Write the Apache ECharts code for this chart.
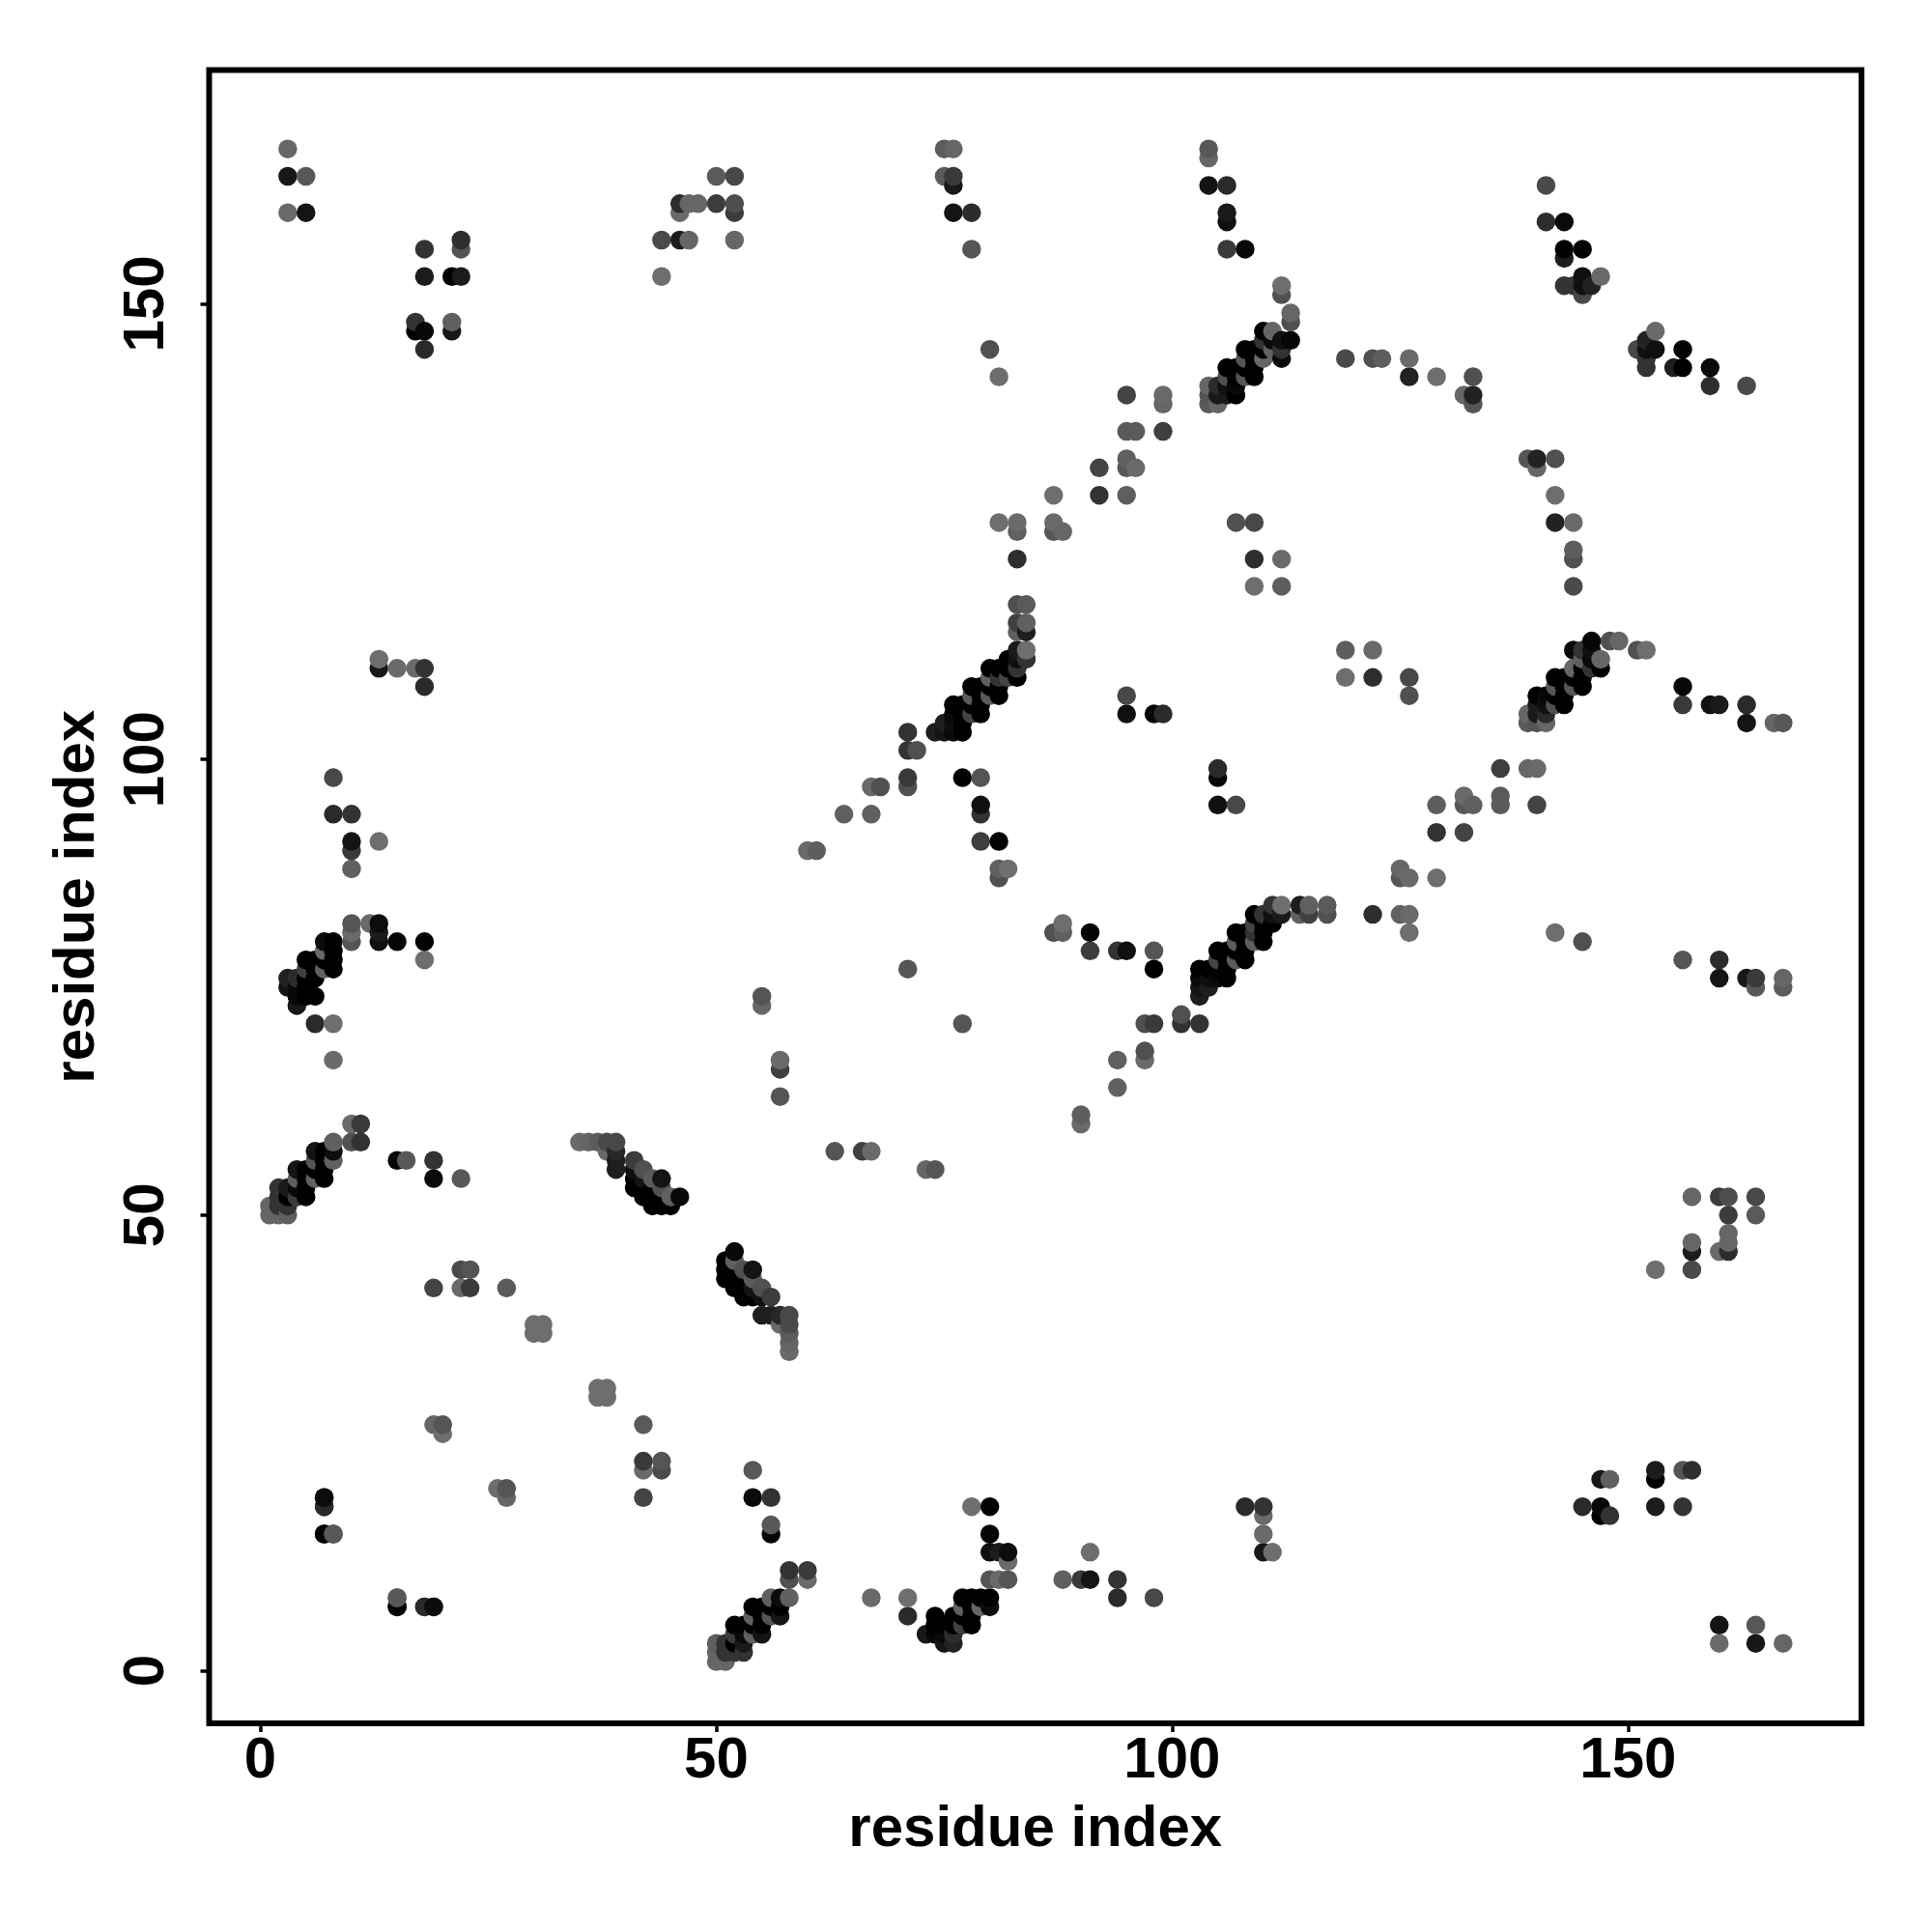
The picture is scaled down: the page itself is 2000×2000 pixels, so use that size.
<!DOCTYPE html>
<html>
<head>
<meta charset="utf-8">
<style>html,body{margin:0;padding:0;background:#fff}#chart{width:2000px;height:2000px}</style>
<script src="https://cdn.jsdelivr.net/npm/echarts@6/dist/echarts.min.js"></script>
</head>
<body>
<div id="chart"></div>
<script>
// Contact map: each entry is [residue i, residue j, level]; the map is symmetric, entries hold i<j.
const tickValues = [0, 50, 100, 150];
const axisName = 'residue index';

const bandN1 = [[1,50,102],[2,50,102],[3,50,94],[1,51,102],[2,51,51],[3,51,51],[2,52,51],[3,52,0],[4,52,60],[5,52,0],
  [2,53,51],[3,53,26],[4,53,10],[5,53,0],[4,54,96],[5,54,0],[6,54,96],[7,54,0],[4,55,20],[5,55,0],[6,55,0],[7,55,0],
  [6,56,85],[7,56,0],[8,56,96],[6,57,20],[7,57,0],[8,57,12],[8,58,96],[10,58,80],[11,58,51],[10,60,106],[11,60,58]];
const bandN2 = [[3,75,20],[3,76,34],[4,73,24],[4,74,8],[4,75,10],[4,76,44],[5,74,0],[5,75,0],[5,76,0],[5,77,64],[5,78,0],
  [6,71,42],[6,74,0],[6,76,0],[6,77,0],[6,78,0],[7,77,96],[7,78,0],[7,79,102],[7,80,12],[8,77,0],[8,78,0],[8,79,0],[8,80,0],
  [8,71,110],[8,67,106],[10,80,85],[10,81,106],[10,82,85],[12,82,106],[13,80,16],[13,81,28],[13,82,12],[15,80,6],[18,80,4],[18,78,110]];
const groupN = [[3,167,102],[3,164,24],[3,160,106],[5,164,88],[5,160,20],[18,156,51],[22,157,46],[22,156,85],[18,153,28],
  [21,153,0],[22,153,28],[17,148,51],[17,147,0],[18,147,8],[18,145,42],[21,148,96],[21,147,24],
  [8,98,72],[8,94,42],[10,94,51],[10,91,20],[10,90,58],[13,91,110],[10,88,96],
  [13,111,110],[13,110,24],[15,110,106],[17,110,106],[18,110,51],[18,108,42],
  [15,56,6],[16,56,88],[19,56,51],[19,54,10],[22,54,88],[19,42,68],[22,44,74],[23,44,85],[22,42,106],[23,42,58],[27,42,90],
  [19,27,102],[20,27,85],[20,26,110],[7,19,8],[7,18,34],[7,15,4],[8,15,85],[15,8,88],[15,7,4],[18,7,42],[19,7,12],
  [30,38,110],[31,38,110],[30,37,110],[31,37,110]];
const bandA = [[35,58,106],[36,58,100],[37,58,92],[38,58,74],[39,58,72],[38,57,106],[39,57,40],[39,56,30],[39,55,30],
  [41,56,60],[41,55,16],[42,55,80],[41,53,0],[41,54,0],[42,53,0],[42,54,20],[43,54,90],[44,54,20],[43,53,0],[44,53,80],
  [42,52,0],[43,52,0],[44,52,0],[45,52,96],[46,52,8],[43,51,0],[44,51,0],[45,51,0]];
const groupB = [[50,164,90],[52,164,72],[46,161,44],[47,161,102],[48,161,102],[50,161,60],[52,161,78],[52,160,60],[46,160,106],
  [44,157,74],[46,157,28],[47,157,102],[52,157,102],[44,153,110],
  [55,74,85],[55,73,102],[57,67,106],[57,66,64],[57,63,85],
  [60,90,106],[61,90,94],[64,94,96],[67,94,96],[67,97,106],[68,97,80],[71,97,80],[71,98,58],[71,101,51],[72,101,80],[71,103,51],[71,77,85],
  [77,98,0],[79,98,85],[79,95,16],[79,94,51],[79,91,62],[81,91,4],[81,88,96],[82,88,110],[81,87,80]];
const bandC = [[74,103,30],[75,103,20],[76,103,10],[77,103,0],[75,104,30],[76,104,14],[77,104,0],
  [76,105,10],[77,105,0],[78,105,68],[79,105,0],[76,106,0],[77,106,0],[78,106,0],[79,106,0],
  [78,107,90],[79,107,0],[80,107,90],[81,107,0],[78,108,0],[79,108,0],[80,108,0],[81,108,0],
  [80,109,96],[81,109,51],[82,109,68],[83,109,0],[80,110,0],[81,110,0],[82,110,0],[83,110,51],
  [82,111,0],[83,111,16],[84,111,51],[83,112,26],[84,112,110],[83,114,96],[84,114,30],[83,115,64],[84,115,96],[83,117,80],[84,117,90]];
const groupC = [[75,167,92],[76,167,102],[75,164,90],[76,164,58],[76,163,24],[76,160,20],[78,160,44],[78,156,85],[80,145,80],[81,142,110],
  [95,140,68],[99,140,106],[99,139,102],[95,136,90],[96,136,90],[99,136,62],[95,133,96],[95,132,88],[96,132,106],[92,132,68],[92,129,51],
  [95,129,94],[87,129,110],[81,126,110],[83,126,106],[83,125,96],[87,126,106],[87,125,85],[88,125,102],[83,122,46],
  [95,105,16],[95,107,72],[98,105,8],[99,105,42]];
const bandD = [[104,139,90],[104,140,85],[104,141,102],[105,139,102],[105,140,26],[105,141,42],
  [106,140,26],[106,141,16],[106,142,80],[106,143,0],[107,140,0],[107,141,8],[107,142,0],[107,143,0],
  [108,142,85],[108,143,0],[108,144,85],[108,145,0],[109,142,0],[109,143,0],[109,144,0],[109,145,0],
  [110,144,102],[110,145,0],[110,146,51],[110,147,0],[111,145,96],[111,146,10],[111,147,102],
  [112,144,10],[112,145,51],[112,146,16],[113,146,6],[113,148,80],[113,149,102],[112,151,80],[112,152,110]];
const groupD = [[104,167,88],[104,166,102],[104,163,20],[106,163,42],[106,160,26],[106,159,16],[106,156,58],[108,156,8],
  [112,119,94],[112,122,106],[109,119,110],[109,122,46],[109,126,72],[107,126,80],
  [119,144,74],[122,144,80],[123,144,94],[126,144,106],[126,142,34],[129,142,110],[133,142,80],[132,140,102],[133,140,34],[133,139,85],
  [141,163,74],[141,159,46],[143,159,10],[143,156,0],[145,156,4],[143,155,30],[143,152,51],[144,152,51],[145,153,16],[147,153,106],
  [145,152,16],[146,152,34],[145,151,72]];

const entries = [].concat(bandN1, bandN2, groupN, bandA, groupB, bandC, groupC, bandD, groupD);
const points = [];
entries.forEach(function (e) { points.push([e[0], e[1], e[2]]); points.push([e[1], e[0], e[2]]); });
points.sort(function (a, b) { return a[0] - b[0] || a[1] - b[1]; });

const font = '"Liberation Sans", Arial, sans-serif';
const chart = echarts.init(document.getElementById('chart'), null, {renderer: 'canvas'});
chart.setOption({
  animation: false,
  backgroundColor: '#fff',
  grid: {show: true, left: 216.5, top: 72.5, width: 1710.5, height: 1711.5, borderWidth: 6, borderColor: '#000', backgroundColor: '#fff', containLabel: false},
  visualMap: {show: false, type: 'continuous', dimension: 2, min: 0, max: 112, inRange: {color: ['#000000', '#707070']}},
  xAxis: {
    type: 'value', min: -5.62, max: 175.6, splitLine: {show: false},
    axisLine: {show: false, onZero: false},
    axisTick: {show: true, length: 9, lineStyle: {color: '#000', width: 3.5}, customValues: tickValues},
    axisLabel: {show: true, color: '#000', fontFamily: font, fontWeight: 'bold', fontSize: 60, margin: 9, customValues: tickValues},
    name: axisName, nameLocation: 'middle', nameGap: 80,
    nameTextStyle: {color: '#000', fontFamily: font, fontWeight: 'bold', fontSize: 60}
  },
  yAxis: {
    type: 'value', min: -5.78, max: 175.66, splitLine: {show: false},
    axisLine: {show: false, onZero: false},
    axisTick: {show: true, length: 9, lineStyle: {color: '#000', width: 3.5}, customValues: tickValues},
    axisLabel: {show: true, color: '#000', fontFamily: font, fontWeight: 'bold', fontSize: 60, rotate: 90, margin: 34, customValues: tickValues},
    name: axisName, nameLocation: 'middle', nameGap: 106,
    nameTextStyle: {color: '#000', fontFamily: font, fontWeight: 'bold', fontSize: 60}
  },
  series: [{
    type: 'scatter', data: points, symbol: 'circle', symbolSize: 19.5,
    itemStyle: {opacity: 1, borderWidth: 0}, emphasis: {disabled: true}, progressive: 0, large: false
  }]
});
</script>
</body>
</html>
